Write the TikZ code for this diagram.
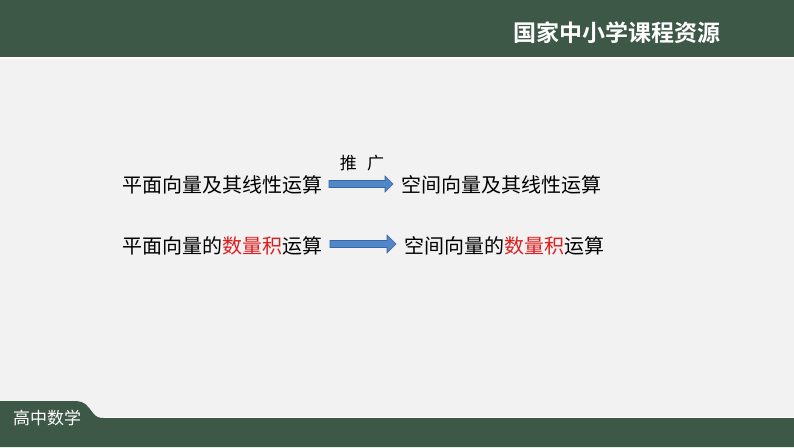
\documentclass[tikz,border=0pt]{standalone}
\usepackage{fontspec}
\setmainfont{Noto Sans CJK SC}
\newfontfamily\cjk{Noto Sans CJK SC}
\newfontfamily\cjkb{Noto Sans CJK SC Bold}
\definecolor{bargreen}{RGB}{61,88,70}
\definecolor{bgray}{RGB}{242,242,242}
\definecolor{arrowblue}{RGB}{80,135,200}
\definecolor{arrowedge}{RGB}{60,100,160}
\definecolor{hired}{RGB}{222,30,30}
\tikzset{
  body/.style={inner sep=0pt, anchor=west, font=\cjk\fontsize{20}{20}\selectfont, text=black},
  blockarrow/.style={fill=arrowblue, draw=arrowedge, line width=0.6pt},
}
\begin{document}
\begin{tikzpicture}[x=1pt,y=-1pt]
\useasboundingbox (0,0) rectangle (794,447);
\fill[bgray] (0,0) rectangle (794,447);
% top bar
\fill[bargreen] (0,0) rectangle (794,56.5);
\fill[white!85!bgray] (0,56.5) rectangle (794,58.5);
\node[inner sep=0pt, anchor=west, text=white, font=\cjkb\fontsize{23}{23}\selectfont] (title) at (513,33) {国家中小学课程资源};
% bottom bar
\fill[bargreen] (0,447) -- (0,401) -- (74,401) .. controls (86,401) and (88,407) .. (93,413) .. controls (96,417) and (99,418) .. (104,418) -- (794,418) -- (794,447) -- cycle;
\draw[white, line width=0.8pt] (104,417.6) -- (794,417.6);
\node[inner sep=0pt, anchor=west, text=white, font=\cjk\fontsize{17}{17}\selectfont] (subj) at (13,418) {高中数学};
% row 1
\node[body] (l1) at (122,185) {平面向量及其线性运算};
\node[body] (r1) at (401,185) {空间向量及其线性运算};
\node[inner sep=0pt, font=\cjk\fontsize{17}{17}\selectfont] (push) at (362,163) {推\hspace{0.6em}广};
\draw[blockarrow] (329,180.5) -- (385,180.5) -- (385,176) -- (393,184) -- (385,192) -- (385,187.5) -- (329,187.5) -- cycle;
% row 2
\node[body] (l2) at (122,246) {平面向量的\textcolor{hired}{数量积}运算};
\node[body] (r2) at (404,246) {空间向量的\textcolor{hired}{数量积}运算};
\draw[blockarrow] (330,240.5) -- (387,240.5) -- (387,235) -- (396,244) -- (387,253) -- (387,247.5) -- (330,247.5) -- cycle;
\end{tikzpicture}
\end{document}
